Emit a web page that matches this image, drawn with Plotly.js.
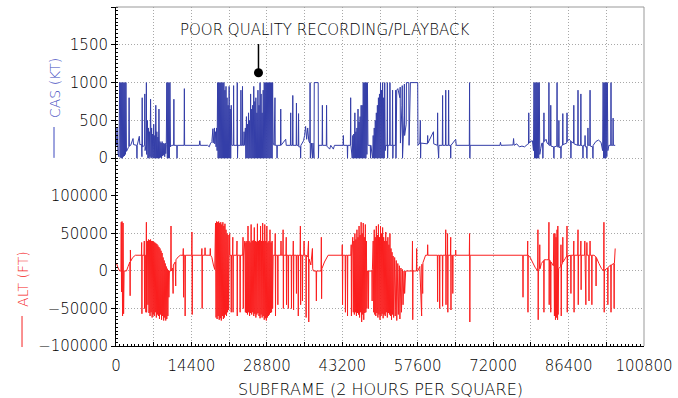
<!DOCTYPE html>
<html>
<head>
<meta charset="utf-8">
<script src="https://cdn.plot.ly/plotly-3.0.1.min.js"></script>
<style>html,body{margin:0;padding:0;background:#fff;}#chart{width:678px;height:398px;}</style>
</head>
<body>
<div id="chart"></div>
<script>
// CAS (KT) samples: [subframe, value]
const casPts = [
[100,170],[200,400],[300,200],[400,60],[550,20],
[700,1000],[800,10],[900,1000],[1000,0],[1100,1000],[1200,0],[1300,1000],[1400,20],[1500,1000],[1600,30],[1700,1000],[1800,50],[1900,1000],[2000,90],
[2150,110],[2350,140],[2450,150],[2500,800],[2550,160],[2800,170],[3250,260],[3350,180],[3950,170],[4000,0],[4050,170],[4450,290],[4550,180],[4900,180],[4950,20],[5000,800],[5050,150],[5450,170],[5500,850],[5550,100],[5750,180],[5800,1000],[5850,50],[6000,500],[6100,0],
[6200,400],[6300,0],[6400,350],[6500,20],[6600,780],[6700,0],[6800,400],[6900,10],[7000,320],[7100,0],[7200,450],[7300,0],[7400,300],[7500,0],[7600,700],[7700,0],[7800,350],[7900,0],[8000,280],[8100,0],[8200,650],[8300,0],[8400,220],[8500,10],[8600,200],[8700,0],[8800,220],[8900,30],[9000,200],[9100,40],[9200,190],[9300,20],[9400,200],[9500,60],[9600,180],
[9700,1000],[9800,0],[9900,1000],[10000,0],[10100,1000],[10200,0],[10300,1000],[10400,150],[10600,170],
[11000,170],[11050,780],[11100,170],[11600,170],[11650,0],[11700,170],[13000,170],[13050,920],[13100,170],
[15900,170],[16000,230],[16100,170],[17500,170],[17800,150],[18000,190],[18300,220],[18500,390],[18550,200],[18800,400],[18850,190],[19000,350],[19100,150],[19200,400],[19300,100],
[19400,1000],[19500,0],[19600,1000],[19700,0],[19800,1000],[19900,0],[20000,1000],[20100,0],[20200,1000],[20300,0],[20400,1000],[20500,0],[20600,1000],[20700,0],[20800,900],[20900,0],[21000,950],[21100,0],[21200,800],[21300,0],[21400,700],[21500,0],[21600,950],[21700,0],[21800,650],[21900,0],[22000,700],[22100,170],
[22400,170],[22450,960],[22500,170],[23100,170],[23150,1000],[23200,0],[23250,170],[23800,170],[23850,900],[23900,170],[24100,170],[24150,950],[24200,170],[24400,170],[24450,350],[24500,170],
[24700,400],[24800,0],[24900,550],[25000,0],[25100,450],[25200,0],[25300,600],[25400,0],[25500,500],[25600,0],[25700,850],[25800,0],[25900,650],[26000,0],[26100,700],[26200,0],[26300,950],[26400,0],[26500,750],[26600,0],[26700,800],[26800,0],[26900,600],[27000,0],[27100,900],[27200,0],[27300,700],[27400,0],[27500,1000],[27600,0],[27700,850],[27800,0],[27900,600],[28000,0],[28100,900],[28200,0],[28300,1000],[28400,0],[28500,1000],[28600,0],[28700,1000],[28800,0],[28900,1000],[29000,0],[29100,1000],[29200,0],[29300,1000],[29400,0],[29500,1000],[29600,0],[29700,1000],[29800,0],[29900,1000],[30000,200],
[30200,170],[30350,800],[30400,170],[30700,170],[30750,0],[30800,170],[31400,170],[31450,650],[31500,170],[32400,250],[32500,170],[33300,170],[33350,600],[33400,170],[33700,170],[33750,830],[33800,170],[34400,170],[34450,730],[34500,170],[34800,170],[34850,590],[34900,150],[35200,150],[35250,0],[35300,170],[35800,230],[36000,300],[36200,420],[36400,250],[36600,400],[36800,230],
[37000,200],[37050,1000],[37100,0],[37300,200],[37500,0],[37600,200],[37800,0],[37850,1000],[38600,1000],[38650,0],[38700,170],
[39350,170],[39400,700],[39450,170],[40150,170],[40200,700],[40250,160],[40800,120],[41000,170],[41500,120],[41700,170],[43350,170],[43400,300],[43450,170],[44150,170],[44200,0],[44250,170],[44750,170],[44800,800],[44850,170],
[45100,0],[45200,300],[45300,0],[45400,320],[45500,0],[45600,600],[45700,0],[45800,350],[45900,0],[46000,400],[46100,0],[46200,650],[46300,0],[46400,480],[46500,0],[46600,550],[46700,0],[46800,700],[46900,0],[47000,700],[47100,0],[47200,1000],[47300,0],[47400,1000],[47500,0],[47600,1000],[47700,0],[47800,1000],[47900,50],[48000,1000],[48100,170],
[48550,170],[48600,0],[48650,170],
[49000,0],[49100,300],[49200,0],[49300,400],[49400,0],[49500,500],[49600,0],[49700,600],[49800,0],[49900,700],[50000,0],[50100,800],[50200,0],[50300,850],[50400,0],[50500,1000],[50600,0],[50700,900],[50800,0],[50900,1000],[51000,0],[51100,800],[51200,0],[51300,1000],[51400,100],[51500,170],
[51750,170],[51800,1000],[51850,0],[51900,170],[52250,170],[52300,1000],[52350,170],[52750,170],[52800,900],[52850,0],[52900,170],
[53350,170],[53400,900],[53450,0],[53600,900],[53800,920],[54200,800],[54250,940],[54300,200],[54600,700],[54650,960],[54700,0],[55000,560],[55050,980],[55100,300],[55400,450],[55450,1000],[55900,1000],[55950,170],[56200,1000],[57600,1000],[57650,170],
[58000,200],[58100,500],[58150,0],[58200,200],[59450,190],[59500,300],[59550,200],[60600,350],[60650,190],[61350,170],[61400,600],[61450,170],[61600,0],[61650,170],
[62300,170],[62350,830],[62400,170],[62900,170],[62950,900],[63000,170],[63450,170],[63500,900],[63550,170],[63850,170],[63900,0],[63950,170],[64850,250],[64950,170],
[67450,170],[67500,1000],[67550,0],[67600,170],
[73300,170],[73400,210],[73500,170],[75800,175],[75900,260],[76000,170],[76500,190],[77000,150],[77500,160],[78000,150],[78500,180],[78750,190],[78800,600],[78850,200],[79000,220],[79500,230],
[79700,100],[79800,1000],[79900,0],[80000,1000],[80100,0],[80200,1000],[80300,0],[80400,1000],[80500,0],[80600,1000],[80700,0],[80800,1000],[80900,50],[81100,130],[81300,200],
[81450,200],[81500,0],[81550,200],[81650,210],[81700,600],[81750,220],[82100,250],[82300,200],[82600,180],[82650,1000],[82700,170],[82950,170],[83000,700],[83050,160],[83550,150],[83600,0],[83650,150],[84150,160],[84200,1000],[84250,150],[84500,150],[84550,500],[84600,140],[84900,150],[84950,0],[85000,160],[85250,170],[85300,590],[85350,180],[86050,200],[86100,600],[86150,220],[86500,250],[86800,230],[86850,0],[86900,220],[87350,200],[87400,700],[87450,190],[88150,170],[88200,900],[88250,170],[88700,170],[88750,850],[88800,170],[89100,160],[89150,0],[89200,170],[89500,170],[89550,300],[89600,150],[89850,150],[89900,0],[89950,160],[90050,170],[90100,400],[90150,170],[90450,170],[90500,900],[90550,160],[91000,150],[91050,0],[91100,170],[91600,220],[92100,240],[92600,210],
[92900,100],[93000,1000],[93100,0],[93200,1000],[93300,0],[93400,1000],[93500,0],[93600,1000],[93700,20],[93800,1000],[93900,100],[94100,170],[94450,170],[94500,1000],[94550,170],[94850,170],[94900,530],[94950,170],[95300,170]
];

// ALT (FT) samples: [subframe, value]
const altPts = [
[100,10000],[400,4000],[700,0],[950,0],[1000,65000],[1050,-28000],[1150,66000],[1250,-60000],[1350,64000],[1450,-57000],[1550,0],[2000,0],[2300,6000],[2650,12000],[2700,-33000],[2750,28000],[2800,13000],[3200,18000],[3700,21000],
[4850,21000],[4900,38000],[4950,-57000],[5000,21000],[5350,21000],[5400,40000],[5450,-50000],[5500,21000],[5650,21000],[5700,-55000],[5800,65000],[5850,-55000],[5900,21000],[6000,40000],[6100,-45000],
[6200,42000],[6300,-56000],[6400,41000],[6500,-60000],[6600,42000],[6700,-55000],[6800,40000],[6900,-62000],[7000,40000],[7100,-58000],[7200,39000],[7300,-60000],[7400,38000],[7500,-55000],[7600,37000],[7700,-62000],[7800,36000],[7900,-58000],[8000,34000],[8100,-60000],[8200,32000],[8300,-64000],[8400,30000],[8500,-58000],[8600,27000],[8700,-65000],[8800,24000],[8900,-60000],
[9000,18000],[9100,-66000],[9200,14000],[9300,-62000],[9400,10000],[9500,-66000],[9600,6000],[9700,-64000],[9800,3000],[9900,-60000],[10000,1000],[10100,-35000],[10200,0],
[10450,0],[10500,60000],[10550,0],[10800,4000],[10900,-30000],[10950,8000],[11300,12000],[11400,-20000],[11450,15000],[11900,19000],[12300,21000],
[12800,21000],[12850,30000],[12900,-35000],[12950,21000],[13150,21000],[13200,-60000],[13250,21000],[14450,21000],[14500,52000],[14550,-58000],[14600,21000],[16350,21000],[16400,30000],[16450,-50000],[16500,21000],[16950,21000],[17000,31000],[17050,21000],[17950,21000],[18000,30000],[18050,21000],
[18300,18000],[18600,8000],[18850,2000],
[19000,64000],[19100,-62000],[19200,66000],[19300,-64000],[19400,65000],[19500,-60000],[19600,66000],[19700,-65000],[19800,64000],[19900,-63000],[20000,65000],[20100,-66000],[20200,62000],[20300,-60000],[20400,65000],[20500,-64000],[20600,60000],[20700,-62000],[20800,63000],[20900,-58000],[21000,55000],[21100,-60000],[21200,50000],[21300,-55000],[21400,48000],[21500,-52000],[21600,21000],
[21650,21000],[21700,50000],[21750,21000],[21950,21000],[22000,-55000],[22050,21000],[22250,21000],[22300,45000],[22350,-55000],[22400,21000],[23050,21000],[23100,40000],[23150,-60000],[23200,21000],[23650,21000],[23700,-55000],[23750,21000],[24200,21000],[24250,45000],[24300,-50000],[24350,21000],
[24600,40000],[24700,-55000],[24800,38000],[24900,-56000],[25000,40000],[25100,-58000],[25200,60000],[25300,-55000],[25400,40000],[25500,-60000],[25600,38000],[25700,-56000],[25800,62000],[25900,-58000],[26000,40000],[26100,-55000],[26200,41000],[26300,-60000],[26400,58000],[26500,-57000],[26600,40000],[26700,-62000],[26800,39000],[26900,-58000],[27000,63000],[27100,-56000],[27200,40000],[27300,-60000],[27400,41000],[27500,-63000],[27600,60000],[27700,-58000],[27800,40000],[27900,-62000],[28000,64000],[28100,-60000],[28200,40000],[28300,-65000],[28400,62000],[28500,-63000],[28600,40000],[28700,-66000],[28800,60000],[28900,-62000],[29000,38000],[29100,-60000],[29200,40000],[29300,-58000],[29400,55000],[29500,-56000],[29600,38000],[29700,-55000],[29800,40000],[29900,-50000],[30000,21000],
[30350,21000],[30400,50000],[30450,-60000],[30500,21000],[30850,21000],[30900,-45000],[30950,21000],[31450,21000],[31500,40000],[31550,21000],[31850,21000],[31900,55000],[31950,-50000],[32000,21000],[32450,21000],[32500,45000],[32550,-45000],[32600,21000],
[32850,21000],[32900,-50000],[32950,21000],[33450,21000],[33500,-50000],[33550,21000],[33800,21000],[33850,40000],[33900,-52000],[33950,21000],[34400,21000],[34450,-30000],[34500,21000],[34750,21000],[34800,-60000],[34850,21000],[35150,21000],[35200,60000],[35250,-45000],[35300,21000],[35550,21000],[35600,-40000],[35650,21000],[35850,21000],[35900,40000],[35950,21000],[36250,21000],[36300,-62000],[36350,21000],
[36600,19000],[36750,40000],[36800,-68000],[36850,16000],[37200,8000],[37500,30000],[37550,3000],[37700,0],[38200,0],[38250,-40000],[38300,0],[39150,0],[39200,45000],[39250,-37000],[39300,3000],[39800,12000],[40500,21000],
[43150,21000],[43200,35000],[43250,-45000],[43300,21000],[43750,21000],[43800,-55000],[43850,21000],[44150,21000],[44200,-60000],[44250,21000],[44850,21000],[44900,35000],[44950,-60000],[45000,21000],
[45200,45000],[45300,-55000],[45400,40000],[45500,-58000],[45600,50000],[45700,-55000],[45800,42000],[45900,-60000],[46000,55000],[46100,-56000],[46200,45000],[46300,-58000],[46400,60000],[46500,-62000],[46600,48000],[46700,-55000],[46800,65000],[46900,-68000],[47000,50000],[47100,-58000],[47200,64000],[47300,-65000],[47400,45000],[47500,-56000],[47600,62000],[47700,-55000],[47800,40000],[47900,-50000],[48000,0],
[48150,0],[48200,-50000],[48250,0],[48850,0],[48900,-40000],[48950,2000],
[49100,40000],[49200,-55000],[49300,55000],[49400,-58000],[49500,45000],[49600,-60000],[49700,60000],[49800,-56000],[49900,48000],[50000,-62000],[50100,62000],[50200,-58000],[50300,45000],[50400,-65000],[50500,60000],[50600,-60000],[50700,50000],[50800,-57000],[50900,58000],[51000,-63000],[51100,45000],[51200,-58000],[51300,40000],[51400,-60000],[51500,52000],[51600,-55000],[51700,40000],[51800,-62000],[51900,45000],[52000,-56000],[52100,35000],[52200,-58000],[52300,50000],[52400,-60000],[52500,30000],[52600,-65000],[52700,25000],[52800,-58000],[52900,20000],[53000,-62000],
[53200,18000],[53300,-60000],[53500,14000],[53600,-66000],[53800,10000],[53900,-58000],[54100,7000],[54200,-64000],[54400,4000],[54500,-55000],[54700,2000],[54800,-45000],[55000,0],[55100,-30000],[55300,0],
[56550,0],[56600,40000],[56650,-65000],[56700,0],[57350,0],[57400,30000],[57450,0],[57600,0],
[58000,6000],[58350,-60000],[58400,9000],[58550,-30000],[58600,11000],[59100,21000],[59450,21000],[59500,35000],[59550,21000],
[61350,21000],[61400,-41000],[61450,21000],[61750,21000],[61800,-50000],[61850,21000],[62300,21000],[62350,-47000],[62400,21000],[62900,21000],[62950,55000],[63000,-45000],[63050,21000],[63250,21000],[63300,50000],[63350,-55000],[63400,21000],[63850,21000],[63900,45000],[63950,-52000],[64000,21000],[64250,21000],[64300,-30000],[64350,21000],[64800,21000],[64850,28000],[64900,21000],
[67450,21000],[67500,50000],[67550,-68000],[67600,21000],
[77650,21000],[77700,-35000],[77750,21000],[78550,21000],[78600,40000],[78650,-55000],[78700,21000],
[79000,19000],[79500,12000],[80000,5000],[80500,0],[80550,55000],[80600,-65000],[80650,1000],[80850,3000],[80900,35000],[80950,3000],[81200,10000],[81650,14000],[81700,-55000],[81750,15000],[82200,15000],[82600,15000],[82650,65000],[82700,-45000],[82750,15000],[82950,13000],[83000,-55000],[83050,12000],[83500,7000],[83600,50000],[83700,-60000],[83800,50000],[83900,-65000],[84000,45000],[84100,-62000],[84200,55000],[84300,-65000],[84350,60000],[84400,-58000],[84500,3000],[84900,6000],[84950,35000],[85000,-60000],[85050,8000],[85250,10000],[85300,45000],[85350,12000],[85800,17000],[86050,20000],[86100,60000],[86150,-55000],[86200,20000],[86800,21000],[86850,-30000],[86900,21000],[87350,21000],[87400,40000],[87450,-55000],[87500,21000],[88150,21000],[88200,55000],[88250,-45000],[88300,21000],[88700,21000],[88750,40000],[88800,-25000],[88850,21000],[89450,21000],[89500,40000],[89700,-45000],[89750,21000],[89850,21000],[89900,38000],[89950,21000],[90250,21000],[90300,-40000],[90350,21000],[90450,21000],[90500,40000],[90550,21000],[90800,21000],[90850,-45000],[90900,21000],[91250,21000],[91600,19000],[91650,-20000],[91700,18000],[92200,10000],[92700,3000],[93100,0],[93150,65000],[93200,-55000],[93250,1000],[93850,4000],[93900,-45000],[93950,5000],[94450,8000],[94500,-55000],[94550,8000],[95050,10000],[95100,-50000],[95150,10000],[95300,30000]
];

// axis ticks
const xTickVals = [0,7200,14400,21600,28800,36000,43200,50400,57600,64800,72000,79200,86400,93600,100800];
const xTickText = ['0','','14400','','28800','','43200','','57600','','72000','','86400','','100800'];
const casTickVals = [-500,0,500,1000,1500,2000];
const casTickText = ['','0','500','1000','1500',''];
const altTickVals = [-100000,-50000,0,50000,100000];
const altTickText = ['\u2212100000','\u221250000','0','50000','100000'];

// annotation marker (poor quality recording)
const noteX = [27200];
const noteY = [1130];
const noteTop = 1510;

const FONT = 'DejaVu Sans, Liberation Sans, sans-serif';
const CAS_COLOR = 'rgb(52,62,168)';
const ALT_COLOR = 'rgb(250,30,30)';
const CAS_TITLE = 'rgb(60,72,190)';
const ALT_TITLE = 'rgb(245,35,35)';

const traces = [
  {x: casPts.map(p=>p[0]), y: casPts.map(p=>p[1]), xaxis:'x2', yaxis:'y2', type:'scatter', mode:'lines',
   line:{color:CAS_COLOR, width:1, simplify:false}, hoverinfo:'skip'},
  {x: altPts.map(p=>p[0]), y: altPts.map(p=>p[1]), xaxis:'x', yaxis:'y', type:'scatter', mode:'lines',
   line:{color:ALT_COLOR, width:1, simplify:false}, hoverinfo:'skip'},
  {x: noteX, y: noteY, xaxis:'x2', yaxis:'y2', type:'scatter', mode:'markers',
   marker:{color:'#000', size:9}, hoverinfo:'skip'}
];

const gridCommon = {showgrid:true, gridcolor:'#a8a8a8', griddash:'1px,2px', gridwidth:1, zeroline:false};
const tickFont = {family:FONT, size:15, color:'#000', weight:200};

const layout = {
  width:678, height:398,
  margin:{l:116, r:34, t:7, b:52},
  paper_bgcolor:'#fff', plot_bgcolor:'#fff',
  showlegend:false,
  xaxis: Object.assign({}, gridCommon, {
    domain:[0,1], anchor:'y', range:[0,100800], tickmode:'array', tickvals:xTickVals, ticktext:xTickText,
    showline:true, linecolor:'#000', linewidth:1, ticks:'inside', ticklen:4, tickcolor:'#000',
    ticklabelstandoff:6, tickfont:tickFont,
    minor:{tickmode:'linear', tick0:0, dtick:720, ticks:'inside', ticklen:2, tickcolor:'#000', showgrid:false}
  }),
  xaxis2: Object.assign({}, gridCommon, {
    domain:[0,1], anchor:'y2', matches:'x', range:[0,100800], tickmode:'array', tickvals:xTickVals,
    showticklabels:false, showline:false, ticks:''
  }),
  yaxis: Object.assign({}, gridCommon, {
    domain:[0,0.4425], anchor:'x', range:[-100000,100000], tickmode:'array', tickvals:altTickVals, ticktext:altTickText,
    showline:true, linecolor:'#000', linewidth:1, ticks:'outside', ticklen:4, tickcolor:'#000', tickfont:tickFont,
    minor:{tickmode:'linear', tick0:0, dtick:5000, ticks:'inside', ticklen:2, tickcolor:'#000', showgrid:false}
  }),
  yaxis2: Object.assign({}, gridCommon, {
    domain:[0.4425,1], anchor:'x2', range:[-500,2000], tickmode:'array', tickvals:casTickVals, ticktext:casTickText,
    showline:true, linecolor:'#000', linewidth:1, ticks:'outside', ticklen:4, tickcolor:'#000', tickfont:tickFont,
    minor:{tickmode:'linear', tick0:0, dtick:50, ticks:'inside', ticklen:2, tickcolor:'#000', showgrid:false}
  }),
  shapes:[
    {type:'line', xref:'paper', yref:'paper', x0:0, x1:1, y0:1, y1:1, line:{color:'#999', width:1}},
    {type:'line', xref:'paper', yref:'paper', x0:1, x1:1, y0:0, y1:1, line:{color:'#999', width:1}},
    {type:'line', xref:'x2', yref:'y2', x0:noteX[0], x1:noteX[0], y0:noteY[0], y1:noteTop, line:{color:'#000', width:1.5}},
    // legend-style line samples beside the axis titles
    {type:'line', xref:'paper', yref:'paper', x0:-0.1174, x1:-0.1174, y0:0.555, y1:0.646, line:{color:CAS_TITLE, width:1}},
    {type:'line', xref:'paper', yref:'paper', x0:-0.178, x1:-0.178, y0:-0.003, y1:0.0885, line:{color:ALT_TITLE, width:1}}
  ],
  annotations:[
    {text:'POOR QUALITY RECORDING/PLAYBACK', xref:'paper', yref:'paper', x:0.396, y:0.932, showarrow:false,
     xanchor:'center', yanchor:'middle', font:{family:FONT, size:15, color:'#000', weight:200}},
    {text:'SUBFRAME (2 HOURS PER SQUARE)', xref:'paper', yref:'paper', x:0.5, y:-0.127, showarrow:false,
     xanchor:'center', yanchor:'middle', font:{family:FONT, size:16, color:'#000', weight:200}},
    {text:'CAS (KT)', xref:'paper', yref:'paper', x:-0.1155, y:0.761, showarrow:false, textangle:-90,
     xanchor:'center', yanchor:'middle', font:{family:FONT, size:14, color:CAS_TITLE, weight:200}},
    {text:'ALT (FT)', xref:'paper', yref:'paper', x:-0.176, y:0.198, showarrow:false, textangle:-90,
     xanchor:'center', yanchor:'middle', font:{family:FONT, size:14, color:ALT_TITLE, weight:200}}
  ]
};

Plotly.newPlot('chart', traces, layout, {staticPlot:true, displayModeBar:false});
</script>
</body>
</html>
